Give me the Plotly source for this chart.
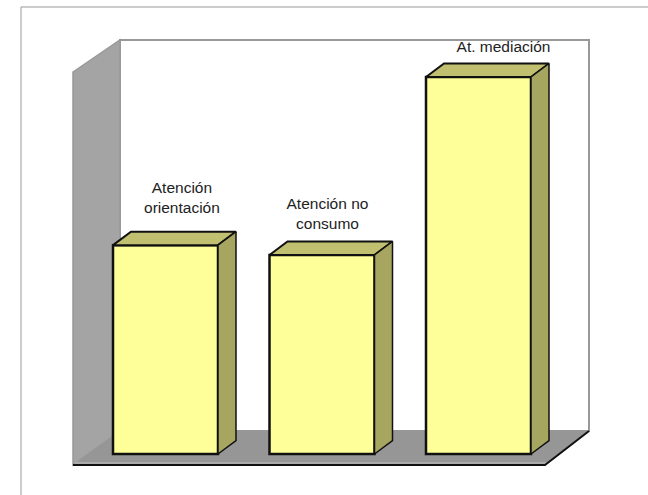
"""
Recreates the 3D-looking yellow bar chart with a grey wall and floor.
Front faces are real bars, the top and side faces are derived from the same values.
"""
import plotly.graph_objects as go

# data, values (no axis is shown, tallest bar taken as 100)
categories = ['Atención<br>orientación', 'Atención no<br>consumo', 'At. mediación']
positions = [0, 1, 2]
values = [55.4, 52.8, 100]

WIDTH = 648
HEIGHT = 495
BAR_WIDTH = 105 / 156.5
DEPTH_X = 18 / 156.5
DEPTH_Y = 13.5 / 3.77

# pixel <-> data: bars are 156.5 px apart, one value unit is 3.77 px
X_RANGE = [-165.5 / 156.5, (WIDTH - 165.5) / 156.5]
Y_RANGE = [-(HEIGHT - 454) / 3.77, 454 / 3.77]


def px_shape(kind, points, **style):
    """Makes a frame shape from pixel points, in paper coordinates"""
    path = ''
    for i, (x, y) in enumerate(points):
        path += ('M' if i == 0 else 'L') + f'{x / WIDTH:.5f},{1 - y / HEIGHT:.5f} '
    if kind == 'fill':
        path += 'Z'
    return dict(type='path', path=path, xref='paper', yref='paper',
                layer='below', **style)


fig = go.Figure()

fig.add_trace(go.Bar(x=positions, y=values, width=BAR_WIDTH,
                     marker=dict(color='#FFFF99',
                                 line=dict(color='#111111', width=2.5)),
                     hoverinfo='skip'))

for pos, val in zip(positions, values):
    left = pos - BAR_WIDTH / 2
    right = pos + BAR_WIDTH / 2
    # top face
    fig.add_trace(go.Scatter(
        x=[left, left + DEPTH_X, right + DEPTH_X, right, left],
        y=[val, val + DEPTH_Y, val + DEPTH_Y, val, val],
        mode='lines', fill='toself', fillcolor='#C0C070',
        line=dict(color='#111111', width=2), hoverinfo='skip'))
    # side face
    fig.add_trace(go.Scatter(
        x=[right, right + DEPTH_X, right + DEPTH_X, right, right],
        y=[val, val + DEPTH_Y, DEPTH_Y, 0, val],
        mode='lines', fill='toself', fillcolor='#A6A660',
        line=dict(color='#111111', width=1.5), hoverinfo='skip'))

# labels sit above each bar, slightly off centre like the original
fig.add_trace(go.Scatter(
    x=[0.105, 1.035, 2.16],
    y=[values[0] + 12.2, values[1] + 10.6, values[2] + 7.7],
    text=categories, mode='text', textposition='middle center',
    textfont=dict(family='Liberation Sans, Arial', size=15.5, color='#222222'),
    hoverinfo='skip'))

frame = [
    # back wall
    px_shape('fill', [(120, 40), (589, 40), (589, 431), (120, 431)],
             fillcolor='#FFFFFF', line=dict(color='#999999', width=2)),
    # left wall
    px_shape('fill', [(73, 72), (120, 40), (120, 431), (73, 465)],
             fillcolor='#A4A4A4', line=dict(color='#999999', width=1.5)),
    # floor
    px_shape('fill', [(73, 465), (120, 431), (589, 431), (545, 465)],
             fillcolor='#969696', line=dict(color='#969696', width=1)),
    # lighter strip just above the front edge
    px_shape('line', [(75, 463), (546, 463)],
             line=dict(color='#ABABAB', width=2)),
    # dark front edge of the floor
    px_shape('line', [(73, 465), (545, 465), (589, 431)],
             line=dict(color='#111111', width=2)),
    # outer frame of the picture
    px_shape('line', [(21, HEIGHT), (21, 7), (WIDTH, 7)],
             line=dict(color='#999999', width=1)),
]

fig.update_layout(
    width=WIDTH, height=HEIGHT,
    margin=dict(l=0, r=0, t=0, b=0),
    paper_bgcolor='white', plot_bgcolor='rgba(0,0,0,0)',
    showlegend=False,
    shapes=frame,
    xaxis=dict(range=X_RANGE, visible=False, fixedrange=True),
    yaxis=dict(range=Y_RANGE, visible=False, fixedrange=True))

# the page's default body margin would push the figure 8 px in
fig.write_html('out.html', config={'displayModeBar': False},
               post_script="document.body.style.margin='0';")
